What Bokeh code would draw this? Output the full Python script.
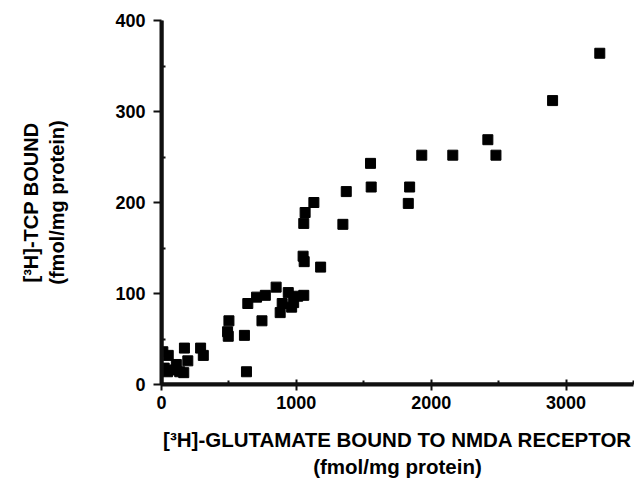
from bokeh.plotting import figure
from bokeh.embed import file_html
from bokeh.resources import INLINE
from bokeh.models import Range1d, FixedTicker, Span

glutamate_bound = [10, 50, 20, 45, 95, 135, 170, 195, 110, 290, 310, 165,
                   500, 490, 495, 615, 630, 640, 705, 770, 745, 850, 880, 895,
                   940, 965, 980, 1010, 1055, 1050, 1058, 1055, 1065, 1130, 1180,
                   1345, 1370, 1550, 1555, 1830, 1840, 1930, 2160, 2420, 2480,
                   2900, 3250]
tcp_bound = [36, 32, 18, 14, 16, 14, 40, 26, 22, 40, 32, 13,
             70, 58, 53, 54, 14, 89, 96, 98, 70, 107, 79, 89,
             101, 85, 90, 97, 98, 141, 135, 177, 189, 200, 129,
             176, 212, 243, 217, 199, 217, 252, 252, 269, 252,
             312, 364]

x_ticks = [0, 1000, 2000, 3000]
x_minor = [500, 1500, 2500, 3500]
y_ticks = [0, 100, 200, 300, 400]
y_minor = [50, 150, 250, 350]

FONT = "Liberation Sans"
INK = "#101010"

p = figure(width=634, height=487, output_backend="svg", toolbar_location=None,
           x_range=Range1d(0, 3500), y_range=Range1d(0, 400),
           min_border_left=161, min_border_right=1, min_border_top=20, min_border_bottom=103)
p.grid.visible = False
p.outline_line_color = None

p.scatter(glutamate_bound, tcp_bound, marker="square", size=10,
          fill_color="black", line_color="black")

# inner half of the axis rules
p.add_layout(Span(location=y_ticks[0], dimension="width", line_color=INK, line_width=4))
p.add_layout(Span(location=x_ticks[0], dimension="height", line_color=INK, line_width=4))

p.xaxis.ticker = FixedTicker(ticks=x_ticks, minor_ticks=x_minor)
p.yaxis.ticker = FixedTicker(ticks=y_ticks, minor_ticks=y_minor)

for ax in (p.xaxis[0], p.yaxis[0]):
    ax.axis_line_width = 4
    ax.axis_line_color = INK
    ax.major_tick_line_width = 2
    ax.minor_tick_line_width = 2
    ax.major_tick_line_color = INK
    ax.minor_tick_line_color = INK
    ax.major_label_text_font = FONT
    ax.major_label_text_font_style = "bold"
    ax.major_label_text_font_size = "18px"
    ax.major_label_text_color = "black"
    ax.axis_label_text_font = FONT
    ax.axis_label_text_font_style = "bold"
    ax.axis_label_text_color = "black"

p.xaxis.major_tick_in = 5
p.xaxis.major_tick_out = 6
p.xaxis.minor_tick_in = 4
p.xaxis.minor_tick_out = 0
p.yaxis.major_tick_in = 0
p.yaxis.major_tick_out = 8
p.yaxis.minor_tick_in = 4
p.yaxis.minor_tick_out = 0
p.yaxis.major_label_standoff = 8
p.xaxis.major_label_standoff = 5

p.xaxis.axis_label = "[³H]-GLUTAMATE BOUND TO NMDA RECEPTOR\n(fmol/mg protein)"
p.xaxis.axis_label_text_font_size = "20.5px"
p.xaxis.axis_label_standoff = 16
p.yaxis.axis_label = "[³H]-TCP BOUND\n(fmol/mg protein)"
p.yaxis.axis_label_text_font_size = "20px"
p.yaxis.axis_label_standoff = 44

open("out.html", "w").write(file_html(p, INLINE))
